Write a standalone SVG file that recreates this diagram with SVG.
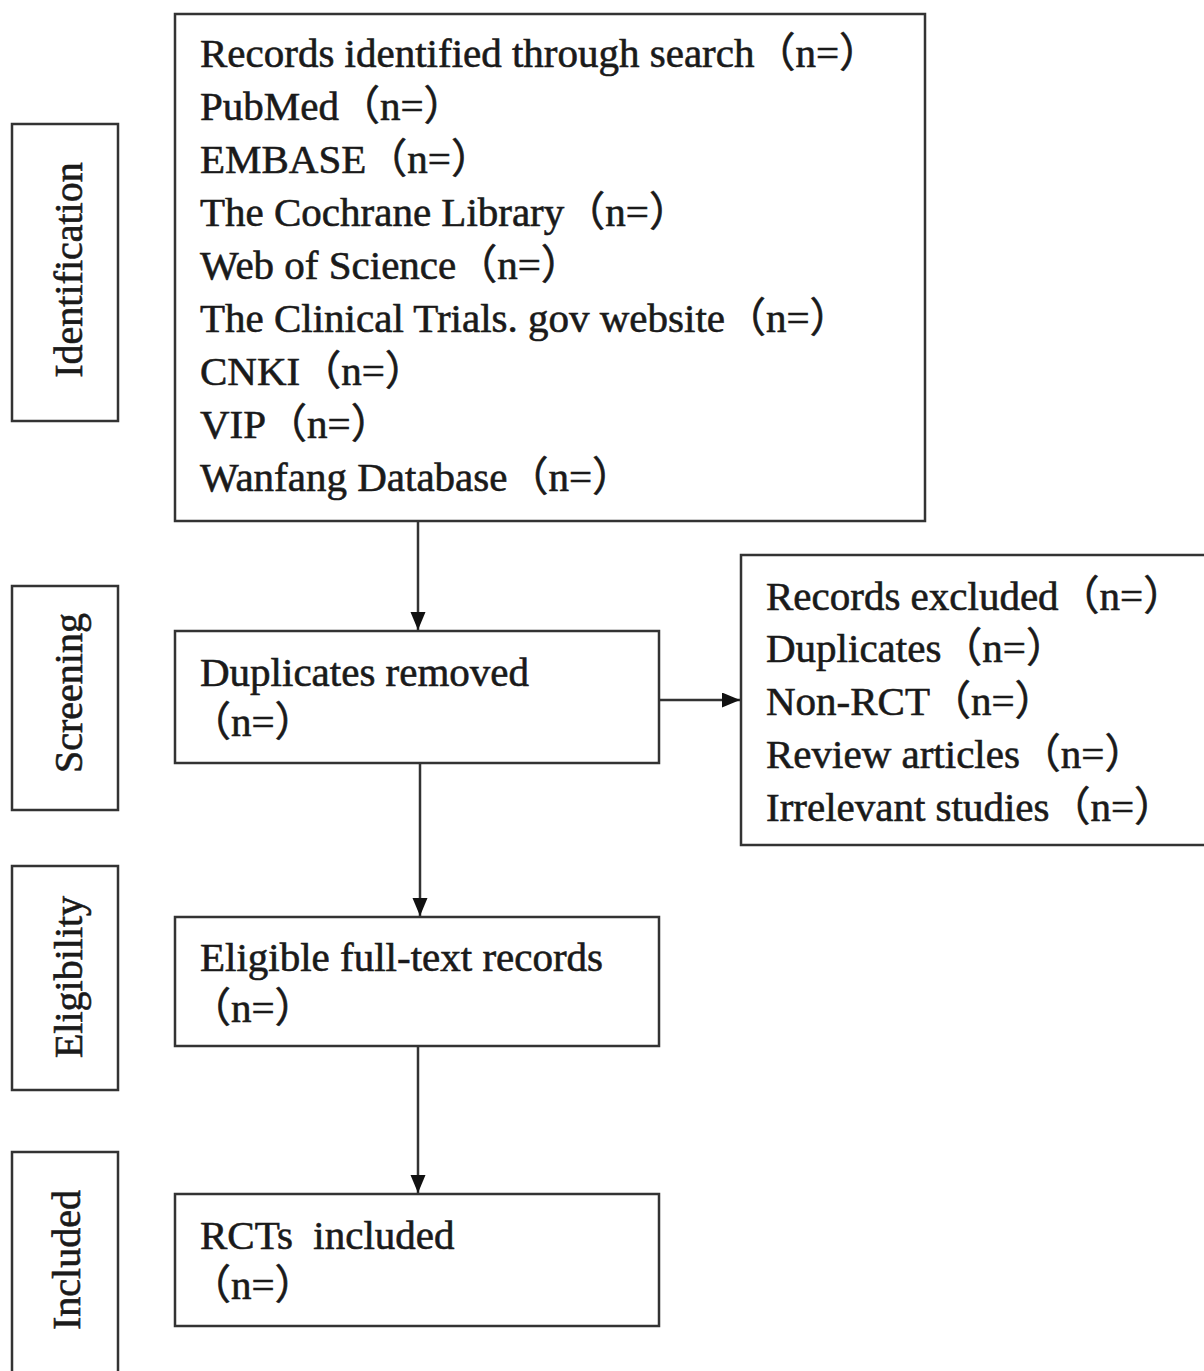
<svg xmlns="http://www.w3.org/2000/svg" width="1204" height="1371" viewBox="0 0 1204 1371">
<style>
.box{fill:#fff;stroke:#333;stroke-width:2.5}
.t{font-family:"Liberation Serif","Noto Sans CJK SC",serif;font-size:41px;fill:#1a1a1a;stroke:#1a1a1a;stroke-width:0.6}
.lab{font-family:"Liberation Serif","Noto Sans CJK SC",serif;font-size:40px;fill:#1a1a1a;stroke:#1a1a1a;stroke-width:0.6;text-anchor:middle}
.c{stroke:#333;stroke-width:2.5;fill:none}
</style>
<defs>
<marker id="arr" markerUnits="userSpaceOnUse" markerWidth="18" markerHeight="20" refX="18" refY="7.5" orient="auto">
<path d="M0,0 L18,7.5 L0,15 Z" fill="#111"/>
</marker>
</defs>
<rect width="1204" height="1371" fill="#fff"/>
<g id="stage-identification"><rect class="box" x="12" y="124" width="106" height="297"/><text class="lab" transform="translate(82,270) rotate(-90)">Identification</text></g>
<g id="stage-screening"><rect class="box" x="12" y="586" width="106" height="224"/><text class="lab" transform="translate(82,693) rotate(-90)">Screening</text></g>
<g id="stage-eligibility"><rect class="box" x="12" y="866" width="106" height="224"/><text class="lab" transform="translate(82,977) rotate(-90)">Eligibility</text></g>
<g id="stage-included"><rect class="box" x="12" y="1152" width="106" height="230"/><text class="lab" transform="translate(80,1260) rotate(-90)">Included</text></g>
<g id="records"><rect class="box" x="175" y="14" width="750" height="507"/>
<text class="t" x="200" y="67">Records identified through search（n=）</text>
<text class="t" x="200" y="120">PubMed（n=）</text>
<text class="t" x="200" y="173">EMBASE（n=）</text>
<text class="t" x="200" y="226">The Cochrane Library（n=）</text>
<text class="t" x="200" y="279">Web of Science（n=）</text>
<text class="t" x="200" y="332">The Clinical Trials. gov website（n=）</text>
<text class="t" x="200" y="385">CNKI（n=）</text>
<text class="t" x="200" y="438">VIP（n=）</text>
<text class="t" x="200" y="491">Wanfang Database（n=）</text>
</g>
<g id="duplicates"><rect class="box" x="175" y="631" width="484" height="132"/>
<text class="t" x="200" y="686">Duplicates removed</text>
<text class="t" x="190" y="736">（n=）</text>
</g>
<g id="excluded"><rect class="box" x="741" y="555" width="470" height="290"/>
<text class="t" x="766" y="610">Records excluded（n=）</text>
<text class="t" x="766" y="662">Duplicates（n=）</text>
<text class="t" x="766" y="715">Non-RCT（n=）</text>
<text class="t" x="766" y="768">Review articles（n=）</text>
<text class="t" x="766" y="821">Irrelevant studies（n=）</text>
</g>
<g id="eligible"><rect class="box" x="175" y="917" width="484" height="129"/>
<text class="t" x="200" y="971">Eligible full-text records</text>
<text class="t" x="190" y="1022">（n=）</text>
</g>
<g id="included"><rect class="box" x="175" y="1194" width="484" height="132"/>
<text class="t" x="200" y="1249">RCTs&#160; included</text>
<text class="t" x="190" y="1299">（n=）</text>
</g>
<g id="connectors">
<line class="c" x1="418" y1="521" x2="418" y2="630" marker-end="url(#arr)"/>
<line class="c" x1="420" y1="763" x2="420" y2="916" marker-end="url(#arr)"/>
<line class="c" x1="418" y1="1046" x2="418" y2="1193" marker-end="url(#arr)"/>
<line class="c" x1="659" y1="700" x2="740" y2="700" marker-end="url(#arr)"/>
</g>
</svg>
